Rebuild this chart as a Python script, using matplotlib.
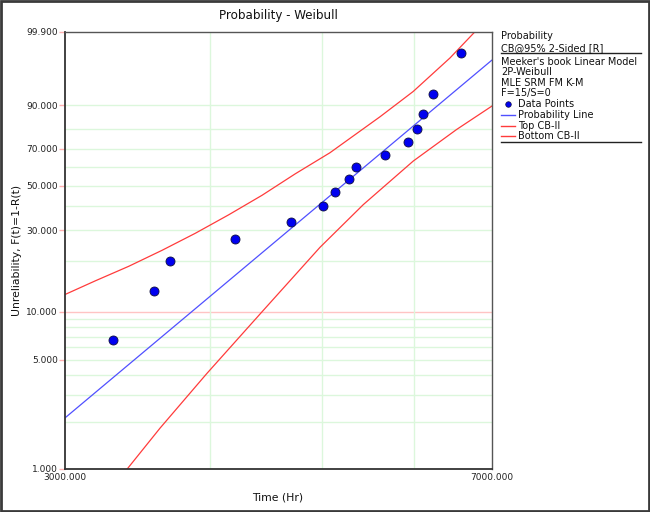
import numpy as np
import matplotlib
matplotlib.use("Agg")
import matplotlib.pyplot as plt
from matplotlib.lines import Line2D
from matplotlib.patches import Rectangle
from matplotlib.ticker import NullFormatter, FixedLocator

# data (time in Hr, unreliability in %)
times = [3304, 3584, 3700, 4204, 4704, 5006, 5126, 5270, 5344, 5661, 5925, 6032, 6104, 6235, 6582]
unrel = [6.67, 13.33, 20.0, 26.67, 33.33, 40.0, 46.67, 53.33, 60.0, 66.67, 73.33, 80.0, 86.67, 93.33, 99.36]

# fitted 2P-Weibull line
beta = 6.31
eta = 5514.0

# confidence bounds (type II, on reliability)
top_t = [3000, 3188, 3406, 3639, 3887, 4154, 4438, 4741, 5078, 5609, 5991, 6444, 6772]
top_f = [12.71, 15.39, 18.74, 23.17, 28.81, 36.12, 45.11, 56.27, 67.77, 85.62, 94.10, 99.06, 99.9]
bot_t = [3396, 3625, 3976, 4449, 4979, 5426, 5991, 6530, 7000]
bot_f = [1.0, 1.835, 4.086, 10.19, 24.10, 40.67, 63.22, 79.89, 89.66]

ytick_vals = [1, 5, 10, 30, 50, 70, 90, 99.9]
ygrid_vals = [2, 3, 4, 5, 6, 7, 8, 9, 10, 20, 30, 40, 50, 60, 70, 80, 90]
xgrid_vals = [4000, 5000, 6000]

legend_head = ["Probability", "CB@95% 2-Sided [R]"]
legend_info = ["Meeker's book Linear Model", "2P-Weibull", "MLE SRM FM K-M", "F=15/S=0"]


def weib_fwd(p):
    p = np.clip(np.asarray(p, dtype=float), 1e-6, 100 - 1e-6)
    return np.log(-np.log(1 - p / 100.0))


def weib_inv(w):
    return 100.0 * (1 - np.exp(-np.exp(np.asarray(w, dtype=float))))


W, H = 650, 512
fig = plt.figure(figsize=(W / 100, H / 100), dpi=100)
ax = fig.add_axes([64.7 / W, 1 - 469 / H, (491.7 - 64.7) / W, (469 - 31.7) / H])

ax.set_xscale("log")
ax.set_yscale("function", functions=(weib_fwd, weib_inv))
ax.set_xlim(3000, 7000)
ax.set_ylim(1, 99.9)

grid_green = "#dcf7dc"
grid_pink = "#ffc4c4"
for v in ygrid_vals:
    ax.axhline(v, color=grid_pink if v == 10 else grid_green, lw=1, zorder=0)
for v in xgrid_vals:
    ax.axvline(v, color=grid_green, lw=1, zorder=0)

# probability line
tl = np.geomspace(3000, 7000, 50)
fl = 100 * (1 - np.exp(-(tl / eta) ** beta))
ax.plot(tl, fl, color="#5050ff", lw=0.9, zorder=2)

ax.plot(top_t, top_f, color="#ff3b3b", lw=0.9, zorder=2)
ax.plot(bot_t, bot_f, color="#ff3b3b", lw=0.9, zorder=2)

ax.plot(times, unrel, "o", ms=6.5, mfc="#0000f0", mec="#101040", mew=0.6, zorder=3, clip_on=False)

ax.yaxis.set_major_locator(FixedLocator(ytick_vals))
ax.set_yticklabels(["%.3f" % v for v in ytick_vals])
ax.yaxis.set_minor_locator(FixedLocator([]))
ax.xaxis.set_major_locator(FixedLocator([3000, 7000]))
ax.xaxis.set_minor_locator(FixedLocator([]))
ax.xaxis.set_minor_formatter(NullFormatter())
ax.set_xticklabels(["%.3f" % v for v in [3000, 7000]])

ax.tick_params(axis="y", length=4, width=1, color="#ffb0b0", labelsize=6.5, pad=1, labelcolor="#222222")
ax.tick_params(axis="x", length=0, labelsize=6.5, pad=3, labelcolor="#222222")

for side in ["left", "bottom"]:
    ax.spines[side].set_color("#333333")
    ax.spines[side].set_linewidth(1.3)
for side in ["top", "right"]:
    ax.spines[side].set_color("#555555")
    ax.spines[side].set_linewidth(1.0)

fig.text(278 / W, 1 - 16 / H, "Probability - Weibull", ha="center", va="center", fontsize=8.6, color="#111111")
fig.text(278 / W, 1 - 497 / H, "Time (Hr)", ha="center", va="center", fontsize=7.8, color="#111111")
fig.text(17 / W, 1 - 250 / H, "Unreliability, F(t)=1-R(t)", ha="center", va="center",
         rotation=90, fontsize=7.8, color="#111111")

# legend block on the right
lx = 501 / W
ys = [36, 47.7, 62, 72.3, 82.7, 93.3]
for txt, y in zip(legend_head + legend_info, ys):
    fig.text(lx, 1 - y / H, txt, ha="left", va="center", fontsize=7, color="#111111")
for y in [53.3, 142.3]:
    fig.add_artist(Line2D([lx, 641 / W], [1 - y / H] * 2, color="#222222", lw=1))

items = [("Data Points", 104, None), ("Probability Line", 115, "#5050ff"),
         ("Top CB-II", 125.7, "#ff3b3b"), ("Bottom CB-II", 136, "#ff3b3b")]
for label, y, c in items:
    fy = 1 - y / H
    if c is None:
        fig.add_artist(Line2D([508.3 / W], [fy], ls="none", marker="o", ms=4,
                              mfc="#0000f0", mec="#101040", mew=0.5))
    else:
        fig.add_artist(Line2D([lx, 515 / W], [fy, fy], color=c, lw=1))
    fig.text(517.7 / W, fy, label, ha="left", va="center", fontsize=7, color="#111111")

fig.add_artist(Rectangle((1 / W, 1 / H), 1 - 2 / W, 1 - 2 / H, transform=fig.transFigure,
                         fill=False, edgecolor="#3a3a3a", lw=2))

fig.savefig("out.png", dpi=100)
